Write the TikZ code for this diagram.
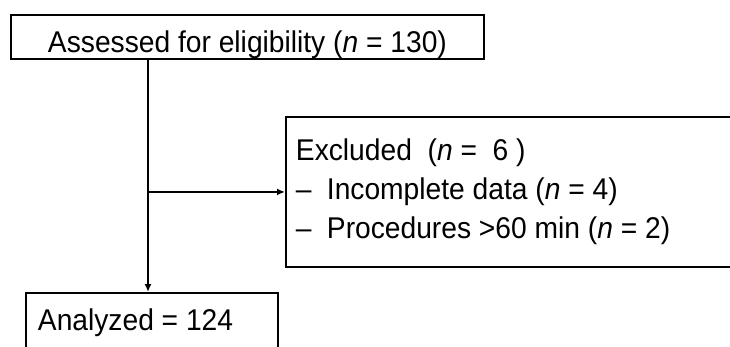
\documentclass[tikz,border=0pt]{standalone}
\usepackage{fontspec}
\setmainfont[FakeStretch=0.94]{Liberation Sans}
\usetikzlibrary{arrows.meta,positioning}

\tikzset{
  flowbox/.style={draw, line width=1.9pt, rectangle, inner sep=0pt, font=\fontsize{30}{39}\selectfont},
  flowarrow/.style={line width=1.9pt, -{Latex[length=8pt,width=7pt]}}
}

\begin{document}
\begin{tikzpicture}[x=1pt,y=-1pt]
    \useasboundingbox (0,0) rectangle (730,347);
    \clip (0,0) rectangle (730,347);

    % Draw boxes
    \node[flowbox, anchor=north west, minimum width=473pt, text height=38pt, text depth=6pt] (assessed) at (10,14) {Assessed for eligibility (\textit{n} = 130)};
    \node[flowbox, anchor=north west, text width=440pt, inner xsep=10pt, minimum height=150pt, align=flush left] (excluded) at (285,116)
        {Excluded\ \ (\textit{n} =\ \ 6 )\\
         \makebox[31pt][l]{--}Incomplete data (\textit{n} = 4)\\
         \makebox[31pt][l]{--}Procedures >60 min (\textit{n} = 2)};
    \node[flowbox, anchor=north west, text width=228pt, inner xsep=12pt, text height=38pt, text depth=40pt, align=flush left] (analyzed) at (25,292) {Analyzed = 124};

    % Draw arrows
    \coordinate (trunk) at (148,0);
    \draw[flowarrow] (assessed.south -| trunk) -- (analyzed.north -| trunk);
    \draw[flowarrow] (excluded.west -| trunk) -- (excluded.west);
\end{tikzpicture}
\end{document}
